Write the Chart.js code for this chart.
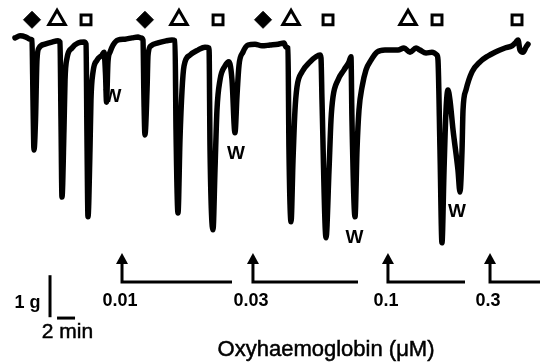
<!DOCTYPE html>
<html lang="en">
<head>
<meta charset="UTF-8">
<title>Oxyhaemoglobin trace</title>
<script src="https://cdn.jsdelivr.net/npm/chart.js"></script>
<style>
    body { margin: 0; background: #fff; }
    #wrap { width: 540px; height: 363px; }
</style>
</head>
<body>
<div id="wrap"><canvas id="trace" width="540" height="363"></canvas></div>
<script>
    // tension trace, time in min, tension in g relative to resting level
    var traceTime = [0, 0.56, 1.22, 1.67, 1.89, 2.0, 2.11, 2.28, 2.44, 2.67, 3.33, 4.11, 4.78,
        5.0, 5.11, 5.22, 5.44, 5.56, 5.78, 6.33, 7.0, 7.67, 7.89, 8.0, 8.11, 8.33, 8.44, 8.67,
        9.11, 9.67, 9.89, 10.06, 10.17, 10.33, 10.56, 10.89, 11.44, 12.22, 13.0, 13.67, 14.0,
        14.22, 14.33, 14.44, 14.67, 14.78, 15.11, 15.89, 16.78, 17.44, 17.78, 17.89, 18.11,
        18.33, 18.56, 18.78, 19.44, 20.33, 21.11, 21.56, 21.67, 22.0, 22.22, 22.44, 22.78,
        23.33, 23.78, 24.11, 24.44, 24.67, 24.89, 25.33, 25.89, 26.67, 27.44, 28.33, 29.22,
        29.89, 30.11, 30.33, 30.44, 30.67, 30.89, 31.11, 31.33, 31.89, 32.78, 33.44, 33.89,
        34.0, 34.11, 34.56, 34.89, 35.11, 35.33, 35.89, 36.56, 37.11, 37.33, 37.44, 37.78,
        38.0, 38.22, 38.56, 39.0, 39.56, 40.22, 41.11, 41.89, 42.56, 43.22, 43.89, 44.56,
        45.0, 45.67, 46.33, 46.89, 47.0, 47.22, 47.44, 47.67, 47.89, 48.11, 48.33, 48.67,
        49.22, 49.44, 49.67, 49.78, 50.11, 50.78, 51.67, 52.56, 53.33, 54.44, 55.22, 55.67,
        55.89, 56.11, 56.44, 56.78, 57.0];
    var traceTension = [0.05, 0.10, 0.07, 0.02, 0, -1.43, -2.62, -1.90, -0.48, -0.19, -0.10, -0.05, -0.02,
        -0.05, -1.90, -3.74, -2.14, -0.95, -0.43, -0.19, -0.07, -0.05, -0.10, -2.38, -4.21, -2.62, -1.43, -0.76,
        -0.48, -0.36, -0.29, -0.83, -1.48, -0.52, -0.29, -0.12, 0, 0.02, 0.05, 0.07, 0.05,
        0, -1.43, -2.26, -1.19, -0.36, -0.14, -0.07, -0.02, 0, -0.02, -2.14, -4.12,
        -2.38, -1.19, -0.62, -0.36, -0.24, -0.17, -0.19, -2.62, -4.52, -3.10, -1.67, -0.95,
        -0.62, -0.52, -0.95, -2.21, -1.31, -0.60, -0.29, -0.12, -0.10, -0.14, -0.12, -0.10,
        -0.07, -0.17, -0.19, -2.62, -4.33, -2.86, -1.67, -1.12, -0.76, -0.52, -0.40, -0.36,
        -0.43, -1.43, -4.71, -3.10, -1.90, -1.36, -0.95, -0.71, -0.52, -0.40, -1.90, -4.21,
        -2.62, -1.67, -1.12, -0.71, -0.48, -0.29, -0.24, -0.24, -0.24, -0.19, -0.29, -0.19,
        -0.24, -0.31, -0.29, -0.36, -0.48, -2.62, -4.83, -3.10, -1.67, -1.19, -1.43, -2.14,
        -3.10, -3.62, -2.62, -1.67, -1.19, -0.76, -0.52, -0.38, -0.29, -0.19, -0.14, -0.05,
        0, -0.24, -0.29, -0.17, -0.10];

    // agonist additions (marker row sits above the trace)
    var markerLevel = 0.48;
    var diamondTimes = [1.89, 14.44, 27.56];
    var triangleTimes = [4.67, 18.22, 30.67, 43.67];
    var squareTimes = [7.89, 22.56, 34.78, 46.89, 55.78];

    // washout labels
    var washTimes = [10.83, 24.56, 37.72, 49.11];
    var washTension = [-1.35, -2.71, -4.70, -4.10];

    // oxyhaemoglobin additions
    var doseTimes = [11.89, 26.44, 41.44, 52.78];
    var doseEnds = [24.11, 38.11, 50.0, 58.6];
    var doseLabels = ['0.01', '0.03', '0.1', '0.3'];

    function pts(times, level) {
        return times.map(function (t, i) {
            return { x: t, y: Array.isArray(level) ? level[i] : level };
        });
    }

    var overlay = {
        id: 'overlay',
        afterDatasetsDraw: function (chart) {
            var ctx = chart.ctx;
            var xs = chart.scales.x, ys = chart.scales.y;
            var px = function (t) { return xs.getPixelForValue(t); };
            var py = function (g) { return ys.getPixelForValue(g); };
            ctx.save();
            ctx.fillStyle = '#000';
            ctx.strokeStyle = '#000';
            ctx.textAlign = 'center';
            ctx.textBaseline = 'middle';

            // W labels
            ctx.font = 'bold 19px "Liberation Sans", Arial, sans-serif';
            washTimes.forEach(function (t, i) {
                ctx.fillText('W', px(t), py(washTension[i]));
            });

            // dose arrows
            var tip = -5.07, base = -5.76;
            doseTimes.forEach(function (t, i) {
                var x = px(t);
                ctx.lineWidth = 3;
                ctx.lineCap = 'butt';
                ctx.beginPath();
                ctx.moveTo(x, py(tip) + 8);
                ctx.lineTo(x, py(base));
                ctx.lineTo(px(doseEnds[i]), py(base));
                ctx.stroke();
                ctx.beginPath();
                ctx.moveTo(x, py(tip));
                ctx.lineTo(x - 6, py(tip) + 11);
                ctx.lineTo(x + 6, py(tip) + 11);
                ctx.closePath();
                ctx.fill();
                ctx.font = 'bold 18px "Liberation Sans", Arial, sans-serif';
                ctx.fillText(doseLabels[i], x - 2, py(-6.21));
            });

            // scale bars: 1 g and 2 min
            ctx.lineWidth = 3;
            ctx.beginPath();
            ctx.moveTo(px(3.89), py(-5.60));
            ctx.lineTo(px(3.89), py(-6.60));
            ctx.stroke();
            ctx.beginPath();
            ctx.moveTo(px(4.67), py(-6.62));
            ctx.lineTo(px(6.67), py(-6.62));
            ctx.stroke();
            ctx.font = 'bold 18px "Liberation Sans", Arial, sans-serif';
            ctx.fillText('1 g', px(1.39), py(-6.27));
            ctx.font = '21px "Liberation Sans", Arial, sans-serif';
            ctx.lineWidth = 0.5;
            ctx.fillText('2 min', px(5.83), py(-6.95));
            ctx.strokeText('2 min', px(5.83), py(-6.95));

            // axis title
            ctx.font = '22px "Liberation Sans", Arial, sans-serif';
            ctx.fillText('Oxyhaemoglobin (\u03bcM)', px(34.56), py(-7.38));
            ctx.strokeText('Oxyhaemoglobin (\u03bcM)', px(34.56), py(-7.38));
            ctx.restore();
        }
    };

    new Chart(document.getElementById('trace'), {
        type: 'line',
        data: {
            datasets: [{
                label: 'Tension',
                data: pts(traceTime, traceTension),
                borderColor: '#000',
                borderWidth: 5.5,
                borderJoinStyle: 'round',
                borderCapStyle: 'round',
                cubicInterpolationMode: 'monotone',
                pointRadius: 0,
                fill: false
            }, {
                label: 'diamond',
                data: pts(diamondTimes, markerLevel),
                showLine: false,
                pointStyle: 'rectRot',
                pointRadius: 8.5,
                backgroundColor: '#000',
                borderColor: '#000',
                borderWidth: 1
            }, {
                label: 'triangle',
                data: pts(triangleTimes, markerLevel),
                showLine: false,
                pointStyle: 'triangle',
                pointRadius: 9.5,
                backgroundColor: '#fff',
                borderColor: '#000',
                borderWidth: 3
            }, {
                label: 'square',
                data: pts(squareTimes, markerLevel),
                showLine: false,
                pointStyle: 'rect',
                pointRadius: 7,
                backgroundColor: '#fff',
                borderColor: '#000',
                borderWidth: 3
            }]
        },
        options: {
            responsive: false,
            animation: false,
            layout: { padding: 0, autoPadding: false },
            plugins: { legend: { display: false }, tooltip: { enabled: false } },
            scales: {
                x: { type: 'linear', min: -1.667, max: 58.333, display: false },
                y: { type: 'linear', min: -7.690, max: 0.952, display: false }
            }
        },
        plugins: [overlay]
    });
</script>
</body>
</html>
